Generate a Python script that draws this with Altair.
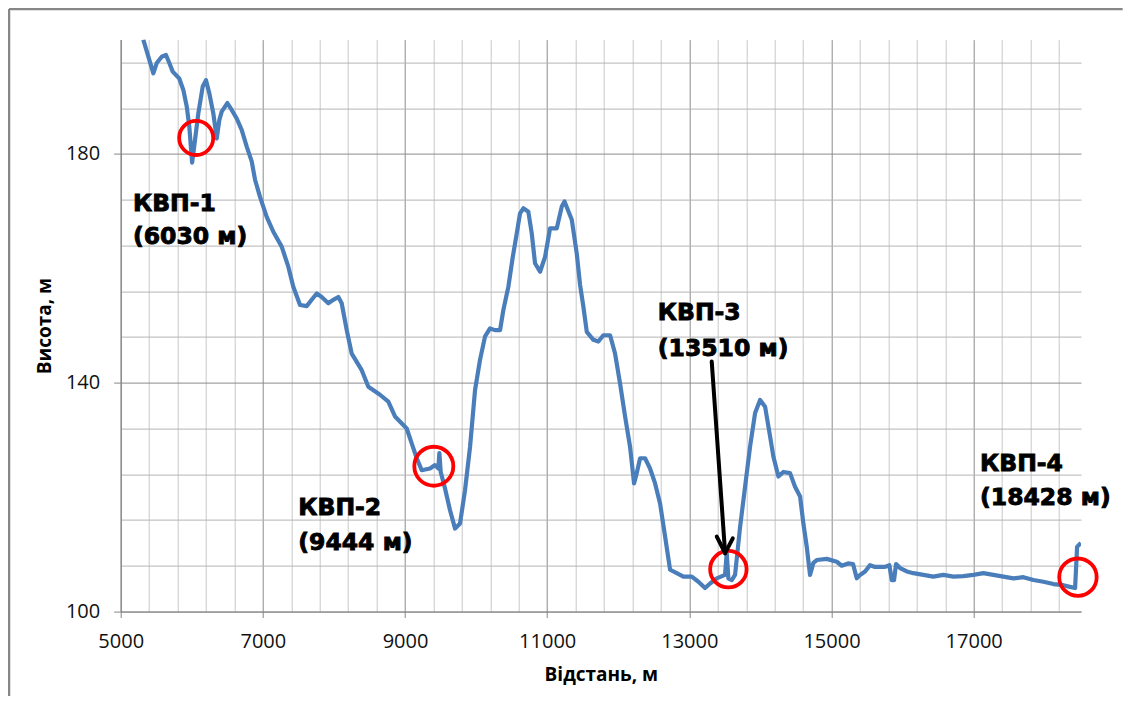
import altair as alt
import pandas as pd

# ---- profile data (distance, m ; elevation, m) ----
dist = [5318, 5459, 5507, 5577, 5637, 5684, 5732, 5824, 5881, 5929,
        5965, 6005, 6031, 6092, 6154, 6200, 6247, 6303, 6351, 6387,
        6421, 6500, 6562, 6632, 6702, 6773, 6843, 6890, 6960, 7054,
        7147, 7265, 7358, 7428, 7523, 7617, 7687, 7758, 7828, 7921,
        7991, 8062, 8109, 8180, 8250, 8391, 8484, 8648, 8765, 8859,
        9024, 9094, 9165, 9235, 9352, 9422, 9469, 9483, 9502, 9563,
        9633, 9704, 9774, 9844, 9915, 9985, 10055, 10126, 10196, 10266,
        10337, 10383, 10454, 10516, 10572, 10618, 10665, 10735, 10783, 10829,
        10900, 10970, 11040, 11135, 11205, 11244, 11346, 11416, 11463, 11509,
        11557, 11650, 11720, 11790, 11885, 11955, 12025, 12096, 12166, 12222,
        12260, 12307, 12377, 12447, 12518, 12588, 12659, 12729, 12823, 12916,
        13034, 13127, 13221, 13291, 13386, 13502, 13526, 13549, 13597, 13643,
        13714, 13784, 13854, 13925, 13995, 14066, 14136, 14182, 14253, 14323,
        14417, 14487, 14558, 14604, 14652, 14698, 14745, 14793, 14933, 15074,
        15144, 15233, 15303, 15355, 15402, 15472, 15542, 15613, 15753, 15814,
        15848, 15880, 15908, 15965, 16059, 16152, 16293, 16433, 16574, 16715,
        16855, 16996, 17137, 17277, 17418, 17559, 17700, 17840, 17981, 18122,
        18262, 18356, 18427, 18455, 18508]
elev = [200.0, 194.1, 195.9, 197.0, 197.3, 195.9, 194.4, 193.2, 191.2, 188.3,
        184.8, 178.5, 181.0, 187.1, 191.8, 192.9, 190.6, 187.1, 182.7, 185.9,
        187.4, 188.9, 187.7, 186.2, 184.2, 181.3, 178.7, 175.5, 172.5, 169.0,
        166.4, 163.8, 160.3, 156.8, 153.6, 153.4, 154.5, 155.6, 155.0, 153.9,
        154.5, 155.0, 153.9, 149.2, 145.1, 142.2, 139.3, 137.9, 136.7, 134.1,
        132.0, 129.4, 126.8, 124.7, 125.0, 125.6, 125.0, 127.7, 124.4, 121.5,
        117.7, 114.5, 115.4, 121.2, 128.8, 138.7, 144.0, 148.1, 149.5, 149.2,
        149.2, 152.7, 156.8, 162.0, 166.1, 169.6, 170.5, 169.9, 166.1, 160.9,
        159.4, 162.0, 167.0, 167.0, 170.8, 171.7, 168.5, 162.6, 157.1, 153.3,
        148.9, 147.5, 147.2, 148.3, 148.3, 145.1, 139.9, 134.1, 128.8, 122.4,
        124.2, 126.8, 126.8, 125.0, 122.4, 118.9, 113.1, 107.3, 106.7, 106.1,
        106.1, 105.2, 104.1, 104.9, 105.8, 106.4, 110.2, 105.8, 105.5, 106.4,
        114.8, 121.8, 128.8, 134.7, 137.0, 135.8, 130.6, 127.1, 123.6, 124.4,
        124.2, 121.8, 120.1, 115.4, 111.3, 106.4, 108.5, 109.0, 109.2, 108.7,
        108.0, 108.4, 108.3, 105.8, 106.4, 107.0, 108.1, 107.8, 107.8, 108.1,
        105.5, 105.5, 108.3, 107.6, 107.0, 106.7, 106.4, 106.1, 106.4, 106.1,
        106.2, 106.4, 106.7, 106.4, 106.1, 105.8, 106.0, 105.5, 105.2, 104.8,
        104.6, 104.3, 104.1, 111.3, 112.0]

# ---- marked crossings (red circles) ----
circ_x = [6062, 9405, 13549, 18467]
circ_y = [182.8, 125.4, 107.4, 106.0]
circ_size = [1160, 1520, 1330, 1400]

# ---- annotation text lines ----
ann_text = ["КВП-1", "(6030 м)", "КВП-2", "(9444 м)",
            "КВП-3", "(13510 м)", "КВП-4", "(18428 м)"]
ann_x = [5173, 5173, 7499, 7499, 12556, 12556, 17090, 17090]
ann_y = [170.1, 164.3, 116.9, 110.8, 150.9, 144.6, 124.6, 118.6]

# ---- arrow to КВП-3 (segments ending at the tip) ----
arr_x = [13315, 13386, 13611]
arr_y = [143.7, 113.1, 112.8]
arr_x2 = [13503, 13503, 13503]
arr_y2 = [110.2, 110.2, 110.2]

# ---- axis ticks / grid ----
x_grid = list(range(5000, 18201, 400))
y_grid = list(range(100, 197, 8))

prof = pd.DataFrame({"x": dist, "y": elev, "i": list(range(len(dist)))})
circ = pd.DataFrame({"x": circ_x, "y": circ_y, "s": circ_size})
ann = pd.DataFrame({"x": ann_x, "y": ann_y, "t": ann_text})
arr = pd.DataFrame({"x": arr_x, "y": arr_y, "x2": arr_x2, "y2": arr_y2})

major_x = "datum.value % 2000 == 1000"
major_y = "(datum.value - 100) % 40 == 0"

X = alt.X(
    "x:Q",
    scale=alt.Scale(domain=[5000, 18510], nice=False, zero=False),
    axis=alt.Axis(
        values=x_grid, format="d",
        labelExpr=f"{major_x} ? datum.label : ''",
        title="Відстань, м",
        gridColor={"condition": {"test": major_x, "value": "#8c8c8c"}, "value": "#c8c8c8"},
        tickColor={"condition": {"test": major_x, "value": "#868686"}, "value": "transparent"},
        tickSize=6, labelPadding=14, labelFlush=False, labelOverlap=False,
        labelFont="Open Sans", labelFontSize=20, labelColor="#111111",
        titleFont="Open Sans", titleFontSize=19, titleFontWeight="bold",
        titleColor="#000000", titleY=63, titleBaseline="middle",
        domainColor="#868686", domainWidth=1.2,
    ),
)
Y = alt.Y(
    "y:Q",
    scale=alt.Scale(domain=[100, 200], nice=False, zero=False),
    axis=alt.Axis(
        values=y_grid,
        labelExpr=f"{major_y} ? datum.label : ''",
        title="Висота, м",
        gridColor={"condition": {"test": major_y, "value": "#8c8c8c"}, "value": "#b4b4b4"},
        tickColor={"condition": {"test": major_y, "value": "#868686"}, "value": "transparent"},
        tickSize=7, labelPadding=14, labelFlush=False, labelOverlap=False,
        labelFont="Open Sans", labelFontSize=20, labelColor="#111111",
        titleFont="Open Sans", titleFontSize=19, titleFontWeight="bold",
        titleColor="#000000", titleX=-76, titleBaseline="middle",
        domainColor="#868686", domainWidth=1.2,
    ),
)

line = alt.Chart(prof).mark_line(
    color="#4A7EBB", strokeWidth=4.2, strokeJoin="round", clip=True
).encode(x=X, y=Y, order="i:Q")

circles = alt.Chart(circ).mark_point(
    shape="circle", filled=False, color="#FF0000", strokeWidth=3.8, opacity=1
).encode(x=X, y=Y, size=alt.Size("s:Q", scale=None, legend=None))

texts = alt.Chart(ann).mark_text(
    align="left", baseline="alphabetic", font="DejaVu Sans",
    fontWeight="bold", fontSize=23.5, color="#000000",
    stroke="#000000", strokeWidth=0.9
).encode(x=X, y=Y, text="t:N")

arrow = alt.Chart(arr).mark_rule(
    color="#000000", strokeWidth=4, strokeCap="round"
).encode(x=X, y=Y, x2="x2:Q", y2="y2:Q")

one = pd.DataFrame({"k": [0]})
border_left = alt.Chart(one).mark_rule(color="#878787", strokeWidth=2.5).encode(
    x=alt.value(-111.7), y=alt.value(-30.6), y2=alt.value(664)
)
border_top = alt.Chart(one).mark_rule(color="#878787", strokeWidth=2.5).encode(
    x=alt.value(-111.7), x2=alt.value(1002), y=alt.value(-30.6)
)

chart = alt.layer(line, circles, arrow, texts, border_left, border_top).properties(
    width=960.3, height=571.9,
    autosize=alt.AutoSizeParams(type="none"),
    padding={"left": 112.7, "top": 31.6, "right": 42, "bottom": 84},
    background="#ffffff",
).configure_view(stroke="transparent")

chart.save("out.html", embed_options={"renderer": "svg", "actions": False})
